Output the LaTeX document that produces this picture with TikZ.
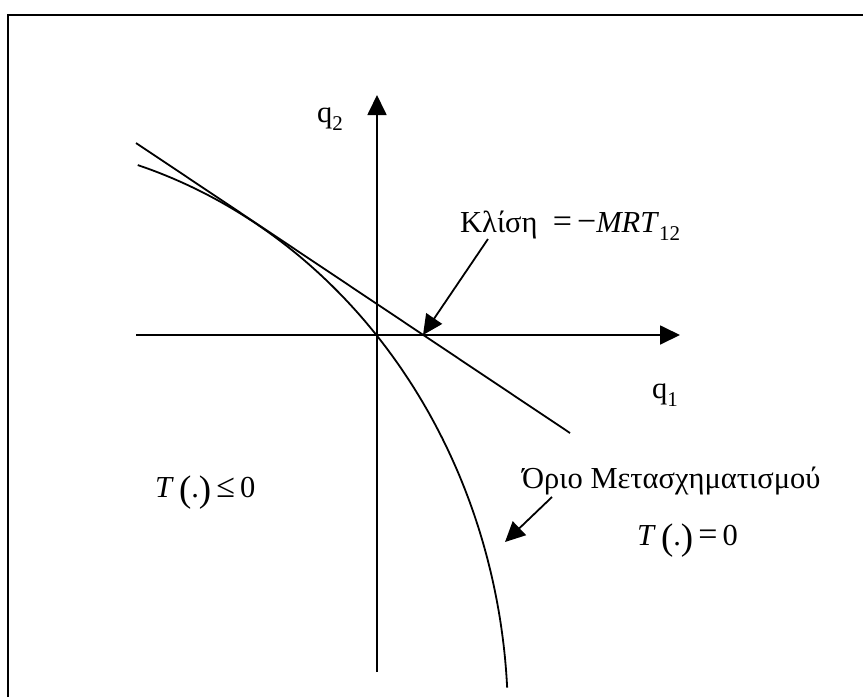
\documentclass[tikz,border=0pt]{standalone}
\usepackage{fontspec}
\setmainfont{Liberation Serif}
\usetikzlibrary{arrows.meta}
\tikzset{
  ln/.style={line width=1.8pt},
  arr/.style={line width=1.8pt,-{Triangle[length=20pt,width=19pt]}},
  lbl/.style={inner sep=0pt,anchor=base west,font=\fontsize{30.5}{36}\selectfont},
}
\newcommand{\sbs}[1]{\raisebox{-0.28em}{\fontsize{21}{21}\selectfont #1}}
\newcommand{\bpar}[1]{{\fontsize{37}{37}\selectfont\raisebox{-0.12em}{#1}}}
\newcommand{\brel}[1]{{\fontsize{34}{34}\selectfont #1}}
\begin{document}
\begin{tikzpicture}[x=1pt,y=-1pt]
\useasboundingbox (0,0) rectangle (863,697);
% frame (only top and left edges are visible)
\draw[ln] (8,697) -- (8,15) -- (863,15);
% axes
\coordinate (ybot) at (377,672);
\coordinate (ytop) at (377,95);
\coordinate (xl) at (136,335);
\coordinate (xr) at (680,335);
\draw[arr] (ybot) -- (ytop);
\draw[arr] (xl) -- (xr);
% tangent line
\coordinate (t1) at (136,143);
\coordinate (t2) at (570,433);
\draw[ln] (t1) -- (t2);
% transformation frontier (elliptic arc)
\draw[ln] plot[domain=3.2:73.1,samples=120,smooth] ({-14+522*cos(\x)},{720-580*sin(\x)});
% labels
\node[lbl] (q2) at (317,122) {q\sbs{2}};
\node[lbl] (q1) at (652,398) {q\sbs{1}};
\node[lbl] (slope) at (460,232) {Κλίση\hspace{0.5em}\brel{=}\,\brel{−}\textit{MRT}\sbs{12}};
\node[lbl] (tle) at (155,497) {\textit{T}\,\bpar{(}.\bpar{)}\,\brel{≤}\,0};
\node[lbl] (orio) at (522,488) {Όριο Μετασχηματισμού};
\node[lbl] (teq) at (637,545) {\textit{T}\,\bpar{(}.\bpar{)}\,\brel{=}\,0};
% pointer arrows
\coordinate (s0) at (488,239);
\coordinate (s1) at (423,335);
\draw[arr] (s0) -- (s1);
\coordinate (o0) at (552,497);
\coordinate (o1) at (505,542);
\draw[arr] (o0) -- (o1);
\end{tikzpicture}
\end{document}
